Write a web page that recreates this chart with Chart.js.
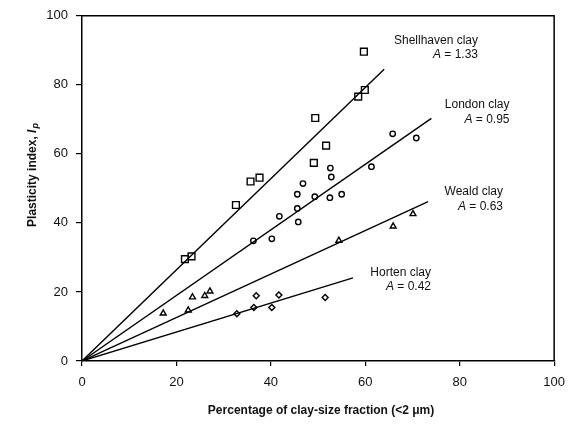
<!DOCTYPE html>
<html><head><meta charset="utf-8">
<script src="https://cdn.jsdelivr.net/npm/chart.js@4.4.1/dist/chart.umd.min.js"></script>
<style>html,body{margin:0;padding:0;background:#fff}#wrap{width:574px;height:424px;position:relative}</style>
</head><body><div id="wrap"><canvas id="c" width="574" height="424"></canvas></div>
<script>
// ---- data ----
const xTicks = [0, 20, 40, 60, 80, 100];
const yTicks = [0, 20, 40, 60, 80, 100];

const shellhavenX = [21.8, 23.2, 32.6, 35.7, 37.6, 49.1, 49.4, 51.7, 58.5, 59.9, 59.7];
const shellhavenY = [29.5, 30.3, 45.2, 52.0, 53.1, 57.4, 70.4, 62.4, 76.6, 78.5, 89.6];

const londonX = [36.3, 40.2, 41.8, 45.6, 45.8, 45.6, 46.8, 49.3, 52.5, 52.6, 52.8, 55.0, 61.3, 65.8, 70.8];
const londonY = [34.8, 35.4, 41.9, 44.2, 40.3, 48.3, 51.4, 47.6, 47.3, 55.9, 53.3, 48.3, 56.3, 65.8, 64.6];

const wealdX = [17.2, 22.5, 23.4, 26.0, 27.1, 54.4, 65.9, 70.1];
const wealdY = [13.8, 14.7, 18.5, 18.9, 20.2, 34.9, 39.0, 42.6];

const hortenX = [32.8, 36.4, 36.9, 40.2, 41.7, 51.5];
const hortenY = [13.7, 15.5, 18.9, 15.5, 19.1, 18.4];

// fitted activity lines: start and end points as read
const lineNames = ['Shellhaven clay', 'London clay', 'Weald clay', 'Horten clay'];
const activityLabels = ['1.33', '0.95', '0.63', '0.42'];
const lineStartX = [0, 0, 0, 0];
const lineStartY = [0, 0, 0, 0];
const lineEndX = [64.0, 74.0, 73.3, 57.4];
const lineEndY = [84.5, 70.3, 46.2, 24.1];

const xTitle = 'Percentage of clay-size fraction (<2 \u03bcm)';
const yTitle = 'Plasticity index, ';

// ---- build chart ----
const pts = (xs, ys) => xs.map((x, i) => ({x: x, y: ys[i]}));
const FONT = "'Liberation Sans', Arial, sans-serif";

const lineSets = lineNames.map((n, i) => ({
  label: n + ' line',
  data: [{x: lineStartX[i], y: lineStartY[i]}, {x: lineEndX[i], y: lineEndY[i]}],
  showLine: true, borderColor: '#000', borderWidth: 1.4, pointRadius: 0, order: 1
}));

const markerBase = {showLine: false, borderColor: '#000', backgroundColor: 'rgba(0,0,0,0)', borderWidth: 1.4, order: 0};
const pointSets = [
  Object.assign({label: 'Shellhaven clay', data: pts(shellhavenX, shellhavenY), pointStyle: 'rect', pointRadius: 4.8}, markerBase),
  Object.assign({label: 'London clay', data: pts(londonX, londonY), pointStyle: 'circle', pointRadius: 2.7}, markerBase),
  Object.assign({label: 'Weald clay', data: pts(wealdX, wealdY), pointStyle: 'triangle', pointRadius: 3.4}, markerBase),
  Object.assign({label: 'Horten clay', data: pts(hortenX, hortenY), pointStyle: 'rectRot', pointRadius: 3}, markerBase)
];

const annot = [
  {right: 478, y1: 41, y2: 55},
  {right: 509.5, y1: 105, y2: 120},
  {right: 503, y1: 192, y2: 207},
  {right: 431, y1: 273, y2: 287}
];

const decor = {
  id: 'decor',
  afterDraw(chart) {
    const ctx = chart.ctx, a = chart.chartArea;
    ctx.save();
    // frame top and right
    ctx.strokeStyle = '#000'; ctx.lineWidth = 1.5;
    ctx.beginPath();
    ctx.moveTo(a.left, a.top); ctx.lineTo(a.right, a.top); ctx.lineTo(a.right, a.bottom);
    ctx.stroke();
    ctx.fillStyle = '#111';
    ctx.textBaseline = 'middle';
    // annotations
    lineNames.forEach((n, i) => {
      const p = annot[i];
      ctx.font = '12px ' + FONT;
      ctx.textAlign = 'right';
      ctx.fillText(n, p.right, p.y1);
      const rest = ' = ' + activityLabels[i];
      const wr = ctx.measureText(rest).width;
      ctx.fillText(rest, p.right, p.y2);
      ctx.font = 'italic 12px ' + FONT;
      ctx.fillText('A', p.right - wr, p.y2);
    });
    // x title
    ctx.font = 'bold 12px ' + FONT;
    ctx.textAlign = 'center';
    ctx.fillText(xTitle, (a.left + a.right) / 2 + 3, 411);
    // y title, rotated
    ctx.translate(33, 175);
    ctx.rotate(-Math.PI / 2);
    ctx.font = 'bold 12px ' + FONT;
    const w1 = ctx.measureText(yTitle).width;
    ctx.font = 'bold italic 12px ' + FONT;
    const w2 = ctx.measureText('I').width;
    ctx.font = 'bold italic 9px ' + FONT;
    const w3 = ctx.measureText('p').width;
    const total = w1 + w2 + w3 + 1;
    let x0 = -total / 2;
    ctx.textAlign = 'left';
    ctx.font = 'bold 12px ' + FONT;
    ctx.fillText(yTitle, x0, 0);
    ctx.font = 'bold italic 12px ' + FONT;
    ctx.fillText('I', x0 + w1, 0);
    ctx.font = 'bold italic 9px ' + FONT;
    ctx.fillText('p', x0 + w1 + w2 + 1, 3);
    ctx.restore();
  }
};

new Chart(document.getElementById('c'), {
  type: 'scatter',
  data: {datasets: lineSets.concat(pointSets)},
  options: {
    responsive: false, devicePixelRatio: 1, animation: false,
    layout: {padding: {left: 0, top: 14, right: 17, bottom: 0}},
    plugins: {legend: {display: false}, tooltip: {enabled: false}},
    scales: {
      x: {
        type: 'linear', min: xTicks[0], max: xTicks[xTicks.length - 1],
        afterBuildTicks(s) { s.ticks = xTicks.map(v => ({value: v})); },
        afterFit(s) { s.height = 63; },
        ticks: {color: '#111', font: {family: FONT, size: 13}, padding: 9, maxRotation: 0},
        grid: {drawOnChartArea: false, drawTicks: true, tickLength: 5, color: '#000', lineWidth: 1.2},
        border: {display: true, color: '#000', width: 1.5}
      },
      y: {
        type: 'linear', min: yTicks[0], max: yTicks[yTicks.length - 1],
        afterBuildTicks(s) { s.ticks = yTicks.map(v => ({value: v})); },
        afterFit(s) { s.width = 82; },
        ticks: {color: '#111', font: {family: FONT, size: 13}, padding: 8},
        grid: {drawOnChartArea: false, drawTicks: true, tickLength: 6, color: '#000', lineWidth: 1.2},
        border: {display: true, color: '#000', width: 1.5}
      }
    }
  },
  plugins: [decor]
});
</script>
</body></html>
